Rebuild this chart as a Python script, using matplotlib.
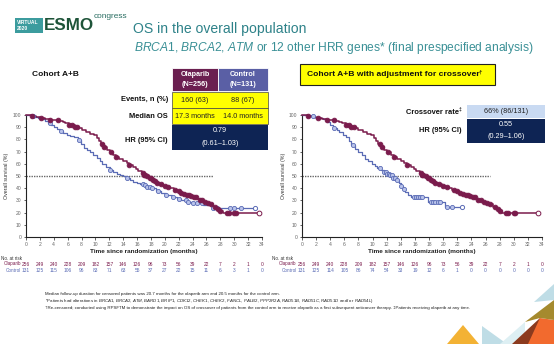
import matplotlib
matplotlib.use('Agg')
import matplotlib.pyplot as plt
import numpy as np
from matplotlib import transforms
from matplotlib.patches import Rectangle, Polygon

plt.rcParams['font.family'] = ['Liberation Sans', 'DejaVu Sans']
plt.rcParams['mathtext.fontset'] = 'custom'
plt.rcParams['mathtext.rm'] = 'Liberation Sans'
plt.rcParams['mathtext.it'] = 'Liberation Sans:italic'

# ---------------- data ----------------
months_ticks = list(range(0, 35, 2))

ola_t = [0, 0.8, 1.5, 2.0, 2.8, 3.4, 4.0, 4.7, 5.3, 5.6, 6.2, 7.0, 7.6, 8.0, 8.6, 9.2, 9.8,
         10.2, 10.5, 10.8, 11.2, 11.6, 12.1, 12.6, 13.0, 13.4, 14.0, 14.5, 14.9, 15.4, 15.8,
         16.2, 16.7, 17.0, 17.3, 17.7, 18.1, 18.5, 18.8, 19.3, 19.8, 20.4, 20.8, 21.3, 21.7,
         22.2, 22.7, 23.1, 23.6, 24.1, 24.6, 25.0, 25.5, 26.0, 26.5, 27.0, 27.5, 28.0, 28.4]
ola_s = [100, 99.2, 98.4, 97.6, 96.8, 96.0, 95.6, 94.8, 94.0, 93.2, 92.0, 90.4, 89.2, 87.6,
         86.4, 84.8, 83.2, 81.2, 78.8, 76.4, 74.0, 71.6, 69.6, 67.6, 65.6, 64.0, 62.4, 60.4,
         58.8, 57.2, 55.6, 54.4, 52.8, 51.2, 49.6, 48.0, 46.8, 45.6, 44.0, 43.2, 42.0, 41.2,
         40.0, 38.8, 37.6, 36.4, 35.6, 34.8, 33.6, 32.4, 31.2, 30.0, 29.0, 28.0, 27.0, 25.0,
         23.2, 21.6, 20.0]
ola_end = 33.5
ola_cens = [0.9, 2.2, 3.5, 4.6, 6.2, 6.6, 7.0, 7.3, 11.0, 11.3, 12.2, 13.0, 14.9, 16.8, 17.0,
            17.2, 17.5, 17.8, 18.0, 18.3, 18.6, 18.9, 19.4, 20.0, 20.5, 21.5, 22.0, 22.4, 22.8,
            23.2, 23.5, 23.8, 24.2, 24.5, 25.0, 25.3, 25.8, 26.2, 26.6, 27.3, 27.7, 28.0, 28.9,
            29.2, 30.0, 30.2]

ctl_t = [0, 0.7, 1.2, 1.8, 2.3, 2.8, 3.2, 3.6, 4.0, 4.4, 4.9, 5.4, 5.9, 6.3, 6.9, 7.5, 7.9,
         8.3, 8.8, 9.2, 9.7, 10.2, 10.6, 10.9, 11.5, 12.1, 12.6, 13.1, 13.6, 14.0, 14.5, 15.0,
         15.4, 16.0, 16.4, 17.0, 17.4, 18.0, 18.8, 19.5, 20.2, 21.0, 21.7, 22.4, 23.1, 24.0,
         25.5, 26.8]
ctl_s = [100, 99.2, 98.4, 97.6, 96.8, 95.2, 93.6, 92.0, 90.4, 88.8, 87.2, 85.2, 84.0, 82.8,
         81.6, 79.6, 76.4, 73.2, 71.6, 70.0, 67.6, 64.8, 62.4, 60.0, 57.6, 55.2, 53.6, 52.0,
         51.2, 49.6, 48.0, 46.4, 45.2, 44.4, 43.6, 42.4, 41.2, 40.0, 38.0, 36.4, 34.4, 32.8,
         31.2, 30.0, 28.8, 27.6, 26.0, 24.0]
ctl_end = 33.0
ctl_cens = [1.0, 3.4, 5.0, 7.6, 12.1, 14.6, 16.8, 17.1, 17.4, 17.8, 18.2, 19.0, 20.2, 21.2,
            22.0, 23.0, 23.4, 24.0, 24.6, 25.3, 27.0, 27.5, 29.4, 30.0, 31.0]

adj_t = [0, 1.0, 1.7, 2.4, 3.0, 3.6, 4.0, 4.4, 4.9, 5.3, 5.8, 6.3, 6.7, 7.0, 7.5, 8.0, 8.5,
         8.9, 9.4, 9.9, 10.3, 10.6, 11.2, 11.6, 12.1, 12.5, 12.9, 13.3, 13.7, 14.0, 14.3, 14.6,
         15.0, 15.5, 17.8, 20.2]
adj_s = [100, 99.2, 98.4, 97.6, 96.5, 94.0, 91.5, 89.0, 87.5, 86.0, 84.0, 82.0, 79.0, 75.5,
         72.5, 69.8, 67.0, 64.3, 62.2, 60.2, 58.5, 56.5, 55.0, 53.3, 52.0, 50.6, 48.5, 46.5,
         44.0, 41.5, 39.0, 36.9, 34.2, 32.6, 28.7, 24.4]
adj_end = 22.6
adj_cens = [1.5, 4.5, 7.2, 11.0, 11.6, 11.9, 12.1, 12.3, 12.5, 12.7, 12.9, 13.2, 13.5, 14.0,
            14.4, 15.8, 16.1, 16.4, 16.7, 17.0, 18.3, 18.6, 18.9, 19.2, 19.5, 20.6, 21.2]

risk_ola = [256, 249, 240, 228, 209, 182, 157, 146, 126, 96, 73, 56, 39, 22, 7, 2, 1, 0]
risk_ctl = [131, 125, 115, 106, 96, 83, 71, 63, 55, 37, 27, 22, 15, 11, 6, 3, 1, 0]
risk_adj = [131, 125, 114, 105, 86, 74, 54, 33, 19, 12, 6, 1, 0, 0, 0, 0, 0, 0]

MAROON = '#7A1B4C'
BLUE = '#5A6BB5'
BLUE_FILL = '#B9C3EA'
NAVY = '#0E2454'
TEAL = '#2E8289'

W, H = 554, 344
fig = plt.figure(figsize=(W / 100, H / 100), dpi=100)
renderer = fig.canvas.get_renderer()


def fx(x):
    return x / W


def fy(y):
    return 1 - y / H


def put(x, y, s, size, width=None, **kw):
    kw.setdefault('va', 'center')
    t = fig.text(fx(x), fy(y), s, fontsize=size, **kw)
    if width:
        w = t.get_window_extent(renderer).width
        t.set_fontsize(size * width / w)
    return t


def rect(x0, y0, x1, y1, fc, ec='none', lw=0.5):
    fig.add_artist(Rectangle((fx(x0), fy(y1)), (x1 - x0) / W, (y1 - y0) / H,
                             transform=fig.transFigure, facecolor=fc, edgecolor=ec, lw=lw))


def km(ax, t, s, end, cens, color, fill, lw, ms):
    tt = list(t) + [end]
    ss = list(s) + [s[-1]]
    ax.step(tt, ss, where='post', color=color, lw=lw, clip_on=False, zorder=3)
    ta = np.array(t)
    sa = np.array(s)
    cy = sa[np.searchsorted(ta, cens, side='right') - 1]
    ax.plot(cens, cy, 'o', ms=ms, mfc=fill, mec=color, mew=0.6, ls='none',
            clip_on=False, zorder=4)
    ax.plot([end], [s[-1]], 'o', ms=ms, mfc='white', mec=color, mew=0.7,
            clip_on=False, zorder=4)


def setup(ax, med_end):
    ax.set_xlim(0, 34)
    ax.set_ylim(0, 100)
    ax.set_xticks(months_ticks)
    ax.set_yticks(range(0, 101, 10))
    for sp in ['top', 'right']:
        ax.spines[sp].set_visible(False)
    for sp in ['left', 'bottom']:
        ax.spines[sp].set_linewidth(0.8)
        ax.spines[sp].set_color('#222222')
    ax.tick_params(labelsize=3.6, colors='#222222', labelcolor='#666666', length=1.8,
                   width=0.5, pad=1.5)
    ax.plot([0, med_end], [50, 50], ls=(0, (1, 0.8)), color='#666666', lw=1.0, zorder=2)
    ax.patch.set_alpha(0)


# ---------------- axes ----------------
axL = fig.add_axes([fx(26), fy(237), 236 / W, 122 / H])
axR = fig.add_axes([fx(302), fy(237), 240 / W, 122 / H])
setup(axL, 27.0)
setup(axR, 26.7)
km(axL, ctl_t, ctl_s, ctl_end, ctl_cens, BLUE, BLUE_FILL, 0.9, 3.0)
km(axL, ola_t, ola_s, ola_end, ola_cens, MAROON, MAROON, 1.1, 3.4)
km(axR, adj_t, adj_s, adj_end, adj_cens, BLUE, BLUE_FILL, 0.9, 3.0)
km(axR, ola_t, ola_s, ola_end, ola_cens, MAROON, MAROON, 1.1, 3.4)

for ax, xl, risk2 in [(axL, 7, risk_ctl), (axR, 283, risk_adj)]:
    bb = ax.get_position()
    put(W * (bb.x0 + bb.x1) / 2, 251, 'Time since randomization (months)', 4.6,
        ha='center', fontweight='bold', color='#222222')
    put(xl, 176, 'Overall survival (%)', 3.8, ha='center', rotation=90, color='#333333')
    tr = transforms.blended_transform_factory(ax.transData, fig.transFigure)
    for m, a, b in zip(months_ticks, risk_ola, risk2):
        fig.text(m, fy(264), str(a), transform=tr, fontsize=3.5, color=MAROON,
                 ha='center', va='center')
        fig.text(m, fy(270), str(b), transform=tr, fontsize=3.5, color=BLUE,
                 ha='center', va='center')

put(1, 258, 'No. at risk', 3.3, color='#333333')
put(21, 264, 'Olaparib', 3.3, ha='right', color=MAROON)
put(21, 270, 'Control', 3.3, ha='right', color=BLUE)
put(272, 258, 'No. at risk', 3.3, color='#333333')
put(296, 264, 'Olaparib', 3.3, ha='right', color=MAROON)
put(297, 270, 'Control', 3.3, ha='right', color=BLUE)

# ---------------- header ----------------
rect(15, 18, 43, 33, '#3C9C9E')
put(17, 22.5, 'VIRTUAL', 3.6, color='white', fontweight='bold')
put(17, 29, '2020', 3.6, color='white', fontweight='bold')
put(44, 25, 'ESMO', 17, width=50, color='#1E5439', fontweight='bold',
    family=['Liberation Sans Narrow', 'Liberation Sans'])
put(94, 16, 'congress', 6, width=34, color='#2A6E62',
    family=['Liberation Sans Narrow', 'Liberation Sans'])

put(133, 29, 'OS in the overall population', 10, width=172, color=TEAL)
put(134, 48, r'$\mathit{BRCA1}$, $\mathit{BRCA2}$, $\mathit{ATM}$ or 12 other HRR genes* '
    r'(final prespecified analysis)', 8, width=401, color='#3A9096')

# ---------------- left table ----------------
put(32, 75, 'Cohort A+B', 7, width=46, fontweight='bold', color='#111111')
rect(172, 68, 218, 91, '#6B1F50', ec='white', lw=0.6)
rect(218, 68, 268, 91, '#5A5FA5', ec='white', lw=0.6)
put(195, 75, 'Olaparib', 5.2, ha='center', color='white', fontweight='bold')
put(195, 84, '(N=256)', 5.2, ha='center', color='white', fontweight='bold')
put(243, 75, 'Control', 5.2, ha='center', color='white', fontweight='bold')
put(243, 84, '(N=131)', 5.2, ha='center', color='white', fontweight='bold')
rect(172, 92, 268, 108, '#FFFF00', ec='#444444', lw=0.5)
rect(172, 108, 268, 124, '#FFFF00', ec='#444444', lw=0.5)
rect(172, 125, 268, 150, NAVY)
put(195, 100, '160 (63)', 5.2, ha='center', color='#222222')
put(243, 100, '88 (67)', 5.2, ha='center', color='#222222')
put(195, 117, '17.3 months', 5.2, ha='center', color='#222222')
put(243, 117, '14.0 months', 5.2, ha='center', color='#222222')
put(220, 131, '0.79', 5.2, ha='center', color='white')
put(220, 143, '(0.61\u20131.03)', 5.2, ha='center', color='white')
put(168, 99, 'Events, n (%)', 5.4, ha='right', fontweight='bold', color='#111111')
put(168, 117, 'Median OS', 5.4, ha='right', fontweight='bold', color='#111111')
put(168, 140, 'HR (95% CI)', 5.4, ha='right', fontweight='bold', color='#111111')

# ---------------- right table ----------------
rect(300, 64, 495, 85, '#FFFF00', ec='#222222', lw=0.8)
put(307, 75, 'Cohort A+B with adjustment for crossover', 7, width=170, fontweight='bold',
    color='#111111')
put(479, 72, '\u2020', 4.5, fontweight='bold', color='#111111')
rect(467, 105, 545, 118, '#C9DAF2')
rect(467, 119, 545, 143, NAVY)
put(506, 111.5, '66% (86/131)', 5.2, ha='center', color='#222222')
put(506, 125, '0.55', 5.2, ha='center', color='white')
put(506, 136, '(0.29\u20131.06)', 5.2, ha='center', color='white')
put(459, 112, 'Crossover rate', 5.4, ha='right', fontweight='bold', color='#111111')
put(459, 109, '\u2021', 3.6, ha='left', fontweight='bold', color='#111111')
put(462, 131, 'HR (95% CI)', 5.4, ha='right', fontweight='bold', color='#111111')

# ---------------- footnotes ----------------
f1 = put(45, 294, 'Median follow-up duration for censored patients was 20.7 months for the '
         'olaparib arm and 20.5 months for the control arm.', 3.3, width=245, color='#222222')
fs = f1.get_fontsize()
put(45, 301, r'*Patients had alterations in $\mathit{BRCA1}$, $\mathit{BRCA2}$, $\mathit{ATM}$, '
    r'$\mathit{BARD1}$, $\mathit{BRIP1}$, $\mathit{CDK12}$, $\mathit{CHEK1}$, $\mathit{CHEK2}$, '
    r'$\mathit{FANCL}$, $\mathit{PALB2}$, $\mathit{PPP2R2A}$, $\mathit{RAD51B}$, '
    r'$\mathit{RAD51C}$, $\mathit{RAD51D}$ and/ or $\mathit{RAD54L}$)', fs, color='#222222')
put(45, 308, '\u2020Re-censored; conducted using RPSFTM to demonstrate the impact on OS of '
    'crossover of patients from the control arm to receive olaparib as a first subsequent '
    'anticancer therapy. \u2021Patients receiving olaparib at any time.', fs, color='#222222')

# ---------------- decoration ----------------
for pts, c in [([(447, 344), (479, 344), (463, 325)], '#F3B234'),
               ([(482, 326), (482, 344), (507, 344)], '#BFDDE6'),
               ([(500, 344), (525, 344), (525, 322)], '#DDEFF3'),
               ([(512, 344), (540, 344), (540, 318)], '#8B3A1E'),
               ([(528, 344), (554, 344), (554, 320), (540, 318)], '#F26A2E'),
               ([(525, 322), (554, 300), (554, 320), (540, 318)], '#A58A2E'),
               ([(534, 302), (554, 284), (554, 300)], '#BFDDE6')]:
    fig.add_artist(Polygon([(fx(x), fy(y)) for x, y in pts], closed=True,
                           transform=fig.transFigure, facecolor=c, edgecolor='none'))

fig.savefig('out.png', dpi=100)
